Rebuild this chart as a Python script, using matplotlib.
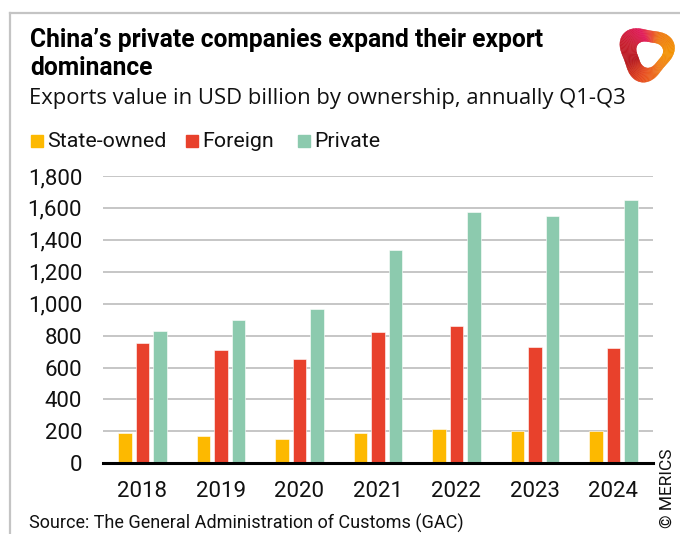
import numpy as np
import matplotlib
matplotlib.use("Agg")
import matplotlib.pyplot as plt
from matplotlib import font_manager
from matplotlib.patches import Rectangle
from matplotlib.lines import Line2D
from matplotlib.collections import PolyCollection
from matplotlib.colors import LinearSegmentedColormap

# Exports by ownership, USD billion, Q1-Q3 of each year
years = ["2018", "2019", "2020", "2021", "2022", "2023", "2024"]
state_owned = [188, 171, 150, 192, 215, 200, 200]
foreign = [755, 710, 651, 820, 858, 726, 720]
private = [830, 895, 966, 1334, 1576, 1549, 1649]

series = ["State-owned", "Foreign", "Private"]
colors = ["#FDB900", "#E8412C", "#8CCAAE"]
yticks = [0, 200, 400, 600, 800, 1000, 1200, 1400, 1600, 1800]

installed = {f.name for f in font_manager.fontManager.ttflist}
title_font = "Liberation Sans Narrow" if "Liberation Sans Narrow" in installed else "Roboto"
body_font = "Roboto"
sub_font = "Open Sans"

W, H = 680, 534
fig = plt.figure(figsize=(W / 100, H / 100), dpi=100)


def fx(px):
    return px / W


def fy(py):
    return 1 - py / H


# grey frame along the left and top edges
fig.add_artist(Line2D([fx(10), fx(10)], [fy(12.5), 0], color="#C4C4C4", lw=1.6))
fig.add_artist(Line2D([fx(10), 1], [fy(12.5), fy(12.5)], color="#C4C4C4", lw=1.6))

fig.text(fx(30), fy(46.7), "China\u2019s private companies expand their export",
         family=title_font, weight="bold", fontsize=17.7, va="baseline")
fig.text(fx(30), fy(75), "dominance",
         family=title_font, weight="bold", fontsize=17.7, va="baseline")
fig.text(fx(29), fy(104), "Exports value in USD billion by ownership, annually Q1-Q3",
         family=sub_font, fontsize=15.8, va="baseline", color="#111111")

# legend row
legend_x = [31, 186, 298]
for x0, name, c in zip(legend_x, series, colors):
    fig.add_artist(Rectangle((fx(x0), fy(146.5)), fx(11.5), 11.5 / H, color=c,
                             transform=fig.transFigure))
    fig.text(fx(x0 + 16), fy(147.3), name, family=body_font, fontsize=15.4,
             va="baseline", color="#111111")

ax = fig.add_axes([fx(103), fy(463.3), fx(652.7) - fx(103), (463.3 - 176) / H])

x = np.arange(len(years))
bw = 0.172
step = 0.223
for i, (vals, c) in enumerate(zip([state_owned, foreign, private], colors)):
    ax.bar(x + (i - 1) * step, vals, width=bw, color=c, edgecolor="#FFFFFF",
           linewidth=0.4, zorder=3)

ax.set_xlim(-0.5, len(years) - 0.5)
ax.set_ylim(0, 1800)
ax.set_yticks(yticks)
ax.set_yticklabels([f"{v:,}" for v in yticks])
ax.set_xticks(x)
ax.set_xticklabels(years)
ax.yaxis.grid(True, color="#C2C2C2", lw=1.3, zorder=0)
ax.set_axisbelow(True)
for side in ["top", "right", "left"]:
    ax.spines[side].set_visible(False)
ax.spines["bottom"].set_color("#000000")
ax.spines["bottom"].set_linewidth(2.2)
ax.spines["bottom"].set_zorder(4)
ax.tick_params(axis="both", length=0, labelsize=16, colors="#111111")
ax.tick_params(axis="y", pad=15)
ax.tick_params(axis="x", pad=13)
for lab in ax.get_xticklabels() + ax.get_yticklabels():
    lab.set_family(body_font)

fig.text(fx(29.3), fy(528.3), "Source: The General Administration of Customs (GAC)",
         family=body_font, fontsize=13.0, va="baseline", color="#111111")
fig.text(fx(667), fy(488), "\u00a9 MERICS", family=body_font, fontsize=12.5,
         rotation=90, ha="center", va="center", color="#111111")

# ring-shaped logo in the top-right corner
lax = fig.add_axes([fx(616), fy(83), fx(60), 60 / H])
lax.set_xlim(-1.15, 1.15)
lax.set_ylim(-1.15, 1.15)
lax.set_aspect("equal")
lax.axis("off")
theta = np.linspace(0, 2 * np.pi, 121)
r_out = 1.0 + 0.13 * np.cos(3 * (theta - 0.35))
r_in = 0.5 + 0.06 * np.cos(3 * (theta - 0.35))
ox, oy = r_out * np.cos(theta), r_out * np.sin(theta)
ix, iy = r_in * np.cos(theta) + 0.12, r_in * np.sin(theta) - 0.02
quads = [[(ox[k], oy[k]), (ox[k + 1], oy[k + 1]), (ix[k + 1], iy[k + 1]), (ix[k], iy[k])]
         for k in range(len(theta) - 1)]
ring_cmap = LinearSegmentedColormap.from_list(
    "ring", ["#F39200", "#EE7A12", "#E2185A", "#C81E2E", "#B5161C", "#E64A1E", "#F07D1A", "#F39200"])
lax.add_collection(PolyCollection(quads, facecolors=ring_cmap(theta[:-1] / (2 * np.pi)),
                                  edgecolors="face", linewidths=0.3))

fig.savefig("out.png", dpi=100)
